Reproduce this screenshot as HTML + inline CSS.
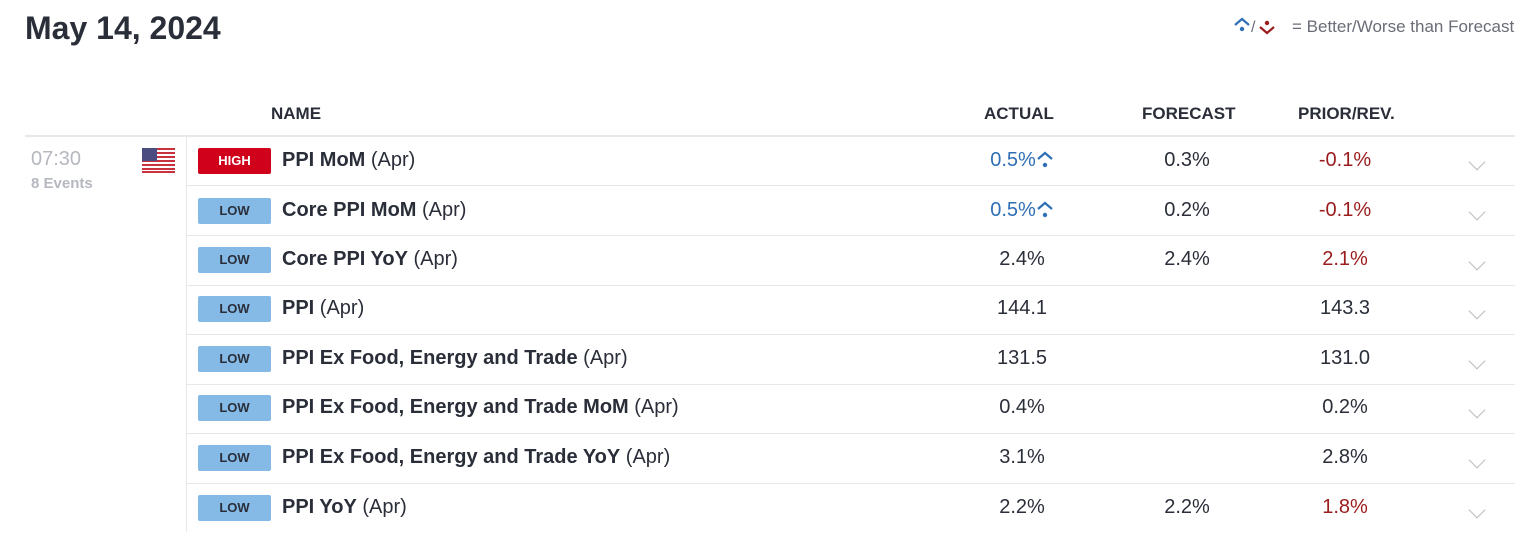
<!DOCTYPE html>
<html><head><style>
body{margin:0;width:1533px;height:552px;background:#fff;font-family:"Liberation Sans",Arial,sans-serif;color:#2a2e39;position:relative;overflow:hidden}
.a{position:absolute;white-space:nowrap}
.h{font-weight:bold;font-size:17px;top:104px}
.badge{position:absolute;left:198px;width:73px;height:26px;border-radius:2px;font-weight:bold;font-size:13px;text-align:center;line-height:26px}
.hi{background:#d0021b;color:#fff}
.lo{background:#85bae6;color:#2a2e39}
.nm{position:absolute;left:282px;font-size:20px}
.nm b{font-weight:bold}
.c{position:absolute;font-size:20px;text-align:center;width:120px}
.sep{position:absolute;left:187px;width:1328px;height:1px;background:#e8e8e8}
.chev{position:absolute;left:1471px;width:11px;height:11px;border-right:1px solid #bbb;border-bottom:1px solid #bbb;transform:rotate(45deg)}
.blue{color:#2f6fb5}.red{color:#9b1c1c}
.up{position:absolute}
</style></head><body>
<div class="a" style="left:25px;top:10px;font-size:32px;font-weight:bold">May 14, 2024</div>
<svg class="up" style="left:1234px;top:17px" width="56" height="20" viewBox="0 0 56 20"><path d="M1 8 L8 2 L15 8" stroke="#2f6fb5" stroke-width="2.2" fill="none"/><circle cx="8" cy="12" r="2.2" fill="#2f6fb5"/><text x="17" y="15" font-size="16" fill="#6a6d78" font-family="Liberation Sans">/</text><path d="M26 10 L33 16 L40 10" stroke="#9b1c1c" stroke-width="2.2" fill="none"/><circle cx="33" cy="6" r="2.2" fill="#9b1c1c"/></svg>
<div class="a" style="left:1292px;top:17px;font-size:17px;color:#6a6d78">= Better/Worse than Forecast</div>
<div class="a h" style="left:271px">NAME</div>
<div class="a h" style="left:984px">ACTUAL</div>
<div class="a h" style="left:1142px">FORECAST</div>
<div class="a h" style="left:1298px">PRIOR/REV.</div>
<div style="position:absolute;left:25px;top:135px;width:1490px;height:2px;background:#e8e8e8"></div>
<div style="position:absolute;left:186px;top:137px;width:1px;height:395px;background:#e8e8e8"></div>
<div class="a" style="left:31px;top:148px;font-size:20px;color:#b5b8bf">07:30</div>
<div class="a" style="left:31px;top:175px;font-size:15px;font-weight:bold;color:#b5b8bf">8 Events</div>
<svg style="position:absolute;left:142px;top:148px" width="33" height="25" viewBox="0 0 33 25"><rect width="33" height="25" rx="3" fill="#fff"/><g fill="#c8313e"><rect y="0" width="33" height="2"/><rect y="4" width="33" height="2"/><rect y="8" width="33" height="2"/><rect y="12" width="33" height="2"/><rect y="16" width="33" height="2"/><rect y="20" width="33" height="2"/><rect y="23" width="33" height="2"/></g><rect width="15" height="13" fill="#4b4d80"/></svg>

<div class="badge hi" style="top:148px">HIGH</div>
<div class="nm" style="top:149px"><b>PPI MoM</b> (Apr)</div>
<div class="c blue" style="left:953px;top:149px">0.5%</div>
<svg class="up" style="left:1036px;top:151px" width="20" height="20"><path d="M2 8 L9 2 L16 8" stroke="#2f6fb5" stroke-width="2.2" fill="none"/><circle cx="9" cy="14" r="2.2" fill="#2f6fb5"/></svg>
<div class="c" style="left:1127px;top:149px">0.3%</div>
<div class="c red" style="left:1285px;top:149px">-0.1%</div>
<div class="chev" style="top:156px"></div>
<div class="sep" style="top:185px"></div>

<div class="badge lo" style="top:198px">LOW</div>
<div class="nm" style="top:199px"><b>Core PPI MoM</b> (Apr)</div>
<div class="c blue" style="left:953px;top:199px">0.5%</div>
<svg class="up" style="left:1036px;top:201px" width="20" height="20"><path d="M2 8 L9 2 L16 8" stroke="#2f6fb5" stroke-width="2.2" fill="none"/><circle cx="9" cy="14" r="2.2" fill="#2f6fb5"/></svg>
<div class="c" style="left:1127px;top:199px">0.2%</div>
<div class="c red" style="left:1285px;top:199px">-0.1%</div>
<div class="chev" style="top:206px"></div>
<div class="sep" style="top:235px"></div>

<div class="badge lo" style="top:247px">LOW</div>
<div class="nm" style="top:248px"><b>Core PPI YoY</b> (Apr)</div>
<div class="c" style="left:962px;top:248px">2.4%</div>
<div class="c" style="left:1127px;top:248px">2.4%</div>
<div class="c red" style="left:1285px;top:248px">2.1%</div>
<div class="chev" style="top:256px"></div>
<div class="sep" style="top:285px"></div>

<div class="badge lo" style="top:296px">LOW</div>
<div class="nm" style="top:297px"><b>PPI</b> (Apr)</div>
<div class="c" style="left:962px;top:297px">144.1</div>
<div class="c" style="left:1285px;top:297px">143.3</div>
<div class="chev" style="top:305px"></div>
<div class="sep" style="top:334px"></div>

<div class="badge lo" style="top:346px">LOW</div>
<div class="nm" style="top:347px"><b>PPI Ex Food, Energy and Trade</b> (Apr)</div>
<div class="c" style="left:962px;top:347px">131.5</div>
<div class="c" style="left:1285px;top:347px">131.0</div>
<div class="chev" style="top:355px"></div>
<div class="sep" style="top:384px"></div>

<div class="badge lo" style="top:395px">LOW</div>
<div class="nm" style="top:396px"><b>PPI Ex Food, Energy and Trade MoM</b> (Apr)</div>
<div class="c" style="left:962px;top:396px">0.4%</div>
<div class="c" style="left:1285px;top:396px">0.2%</div>
<div class="chev" style="top:404px"></div>
<div class="sep" style="top:433px"></div>

<div class="badge lo" style="top:445px">LOW</div>
<div class="nm" style="top:446px"><b>PPI Ex Food, Energy and Trade YoY</b> (Apr)</div>
<div class="c" style="left:962px;top:446px">3.1%</div>
<div class="c" style="left:1285px;top:446px">2.8%</div>
<div class="chev" style="top:454px"></div>
<div class="sep" style="top:483px"></div>

<div class="badge lo" style="top:495px">LOW</div>
<div class="nm" style="top:496px"><b>PPI YoY</b> (Apr)</div>
<div class="c" style="left:962px;top:496px">2.2%</div>
<div class="c" style="left:1127px;top:496px">2.2%</div>
<div class="c red" style="left:1285px;top:496px">1.8%</div>
<div class="chev" style="top:504px"></div>
</body></html>
